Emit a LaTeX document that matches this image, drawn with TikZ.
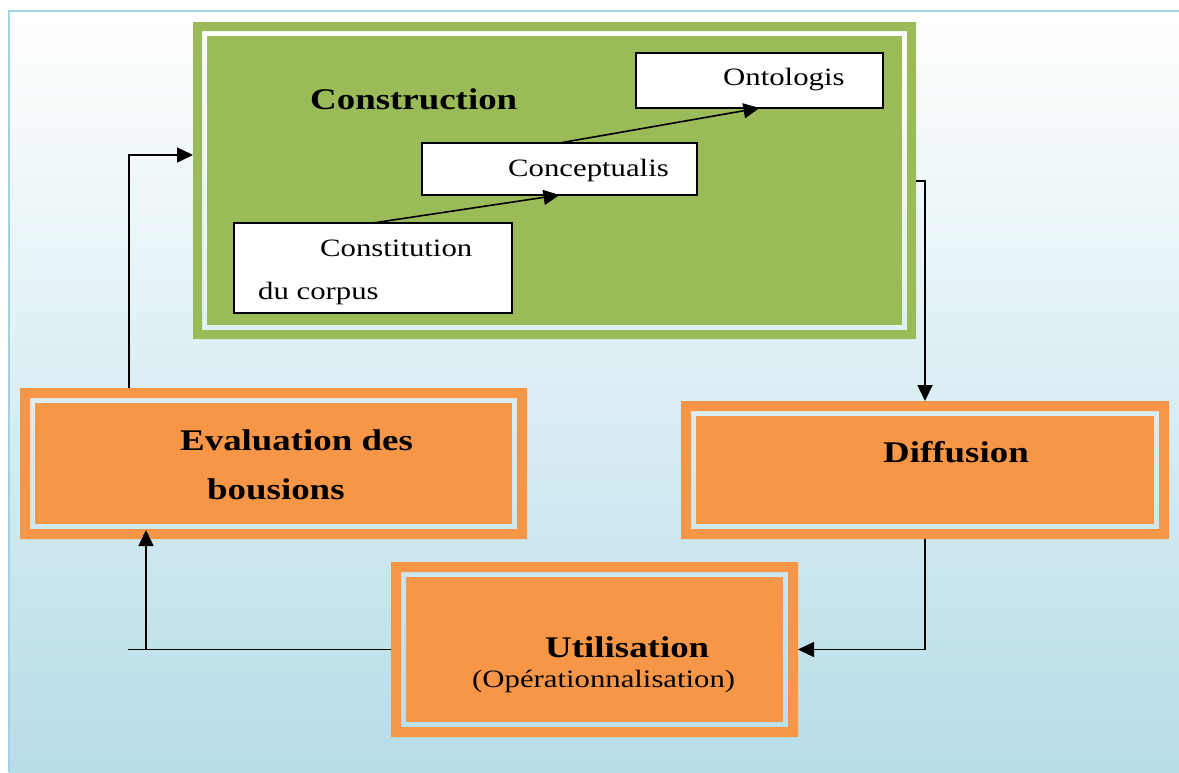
\documentclass[tikz,border=0pt]{standalone}
\usepackage{fontspec}
\setmainfont[FakeStretch=1.23]{Liberation Serif}
\usetikzlibrary{arrows.meta}
\definecolor{bgblue}{HTML}{B7DDE8}
\definecolor{bordblue}{HTML}{9FD3E2}
\definecolor{ogreen}{HTML}{9BBB59}
\definecolor{oorange}{HTML}{F79646}
\newcommand\dblframe[4]{%
  \fill[#2,even odd rule] (#1.north west) rectangle (#1.south east)
    ([shift={(#3,#3)}]#1.north west) rectangle ([shift={(-#3,-#3)}]#1.south east);
  \fill[#2] ([shift={(#4,#4)}]#1.north west) rectangle ([shift={(-#4,-#4)}]#1.south east);}
\begin{document}
\begin{tikzpicture}[x=1pt,y=-1pt,
  framebox/.style={rectangle, draw=none, inner sep=0pt, outer sep=0pt},
  wbox/.style={rectangle, draw=black, fill=white, line width=1.3pt, inner sep=0pt, outer sep=0pt},
  arr/.style={line width=1.6pt, -{Triangle[length=16pt,width=15pt]}},
  conn/.style={line width=1.6pt},
  lbl/.style={inner sep=0pt, anchor=base west, font=\fontsize{25}{30}\selectfont},
  blbl/.style={inner sep=0pt, anchor=base west, font=\fontsize{30}{36}\selectfont\bfseries}]
\useasboundingbox (0,0) rectangle (1179,772);
\fill[white] (0,0) rectangle (1179,772);
\shade[top color=white, bottom color=bgblue] (9,11) rectangle (1179,772);
\draw[bordblue, line width=2.5pt] (9,772) -- (9,11) -- (1179,11);

% frames
\node[framebox, minimum width=723pt, minimum height=317pt] (cons) at (554.5,180.5) {};
\node[framebox, minimum width=507pt, minimum height=151pt] (eval) at (273.5,463.5) {};
\node[framebox, minimum width=488pt, minimum height=138pt] (diff) at (925,470) {};
\node[framebox, minimum width=407pt, minimum height=175pt] (util) at (594.5,649.5) {};
\dblframe{cons}{ogreen}{9}{14}
\dblframe{eval}{oorange}{10}{15}
\dblframe{diff}{oorange}{10}{15}
\dblframe{util}{oorange}{10}{15}

% inner white boxes
\node[wbox, minimum width=247pt, minimum height=55pt] (onto) at (759.5,80.5) {};
\node[wbox, minimum width=275pt, minimum height=52pt] (concept) at (559.5,169) {};
\node[wbox, minimum width=278pt, minimum height=90pt] (constit) at (373,268) {};

% texts
\node[blbl] (t-cons) at (310,109) {Construction};
\node[lbl] (t-onto) at (723,85) {Ontologis};
\node[lbl] (t-concept) at (508,176) {Conceptualis};
\node[lbl] (t-constit1) at (320,256) {Constitution};
\node[lbl] (t-constit2) at (258,299) {du corpus};
\node[blbl] (t-eval1) at (180,450) {Evaluation des};
\node[blbl] (t-eval2) at (207,499) {bousions};
\node[blbl] (t-diff) at (883,462) {Diffusion};
\node[blbl] (t-util1) at (545,657) {Utilisation};
\node[lbl] (t-util2) at (472,687) {(Opérationnalisation)};

% connectors
\coordinate (c1) at (129,155);
\coordinate (c2) at (925,181);
\coordinate (c3) at (128,649.5);
\coordinate (c4) at (146,649.5);
\draw[arr] (constit.north) -- (concept.south);
\draw[arr] (concept.north) -- (onto.south);
\draw[arr] (eval.north -| c1) |- (c1 -| cons.west);
\draw[arr] (c2 -| cons.east) -| (diff.north);
\draw[arr] (diff.south) |- (util.east);
\draw[conn] (util.west) -- (c3);
\draw[arr, shorten >=-9pt] (c4) -- (eval.south -| c4);
\end{tikzpicture}
\end{document}
